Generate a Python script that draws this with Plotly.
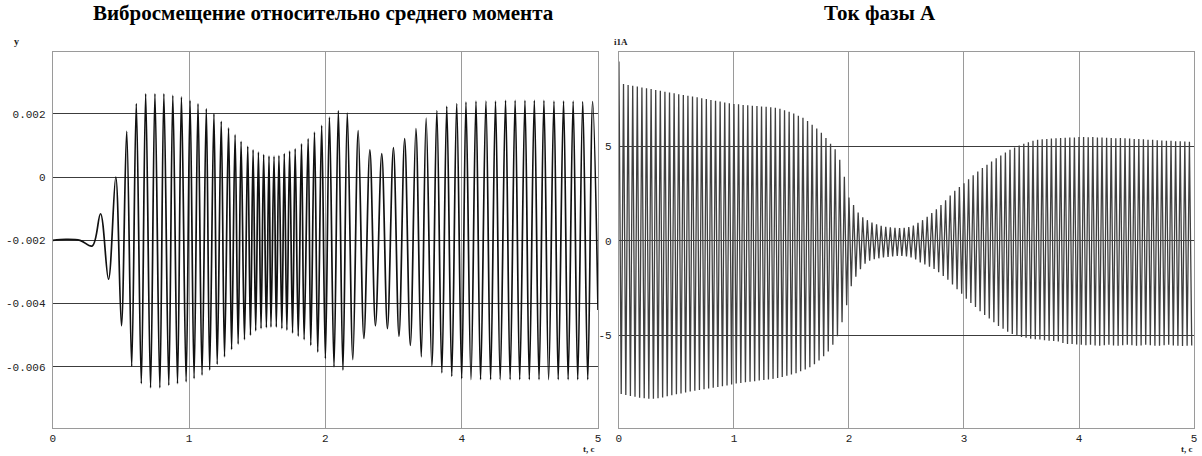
import plotly.graph_objects as go

# ---------------- data: left chart (extrema of vibration displacement) ----------------
disp_t = [0.000, 0.120, 0.250, 0.362, 0.438, 0.511, 0.578, 0.630, 0.678, 0.724,
          0.766, 0.812, 0.852, 0.897, 0.937, 0.982, 1.019, 1.064, 1.101, 1.144,
          1.180, 1.223, 1.259, 1.296, 1.332, 1.369, 1.408, 1.439, 1.478, 1.508,
          1.545, 1.575, 1.612, 1.640, 1.672, 1.700, 1.727, 1.758, 1.788, 1.813,
          1.837, 1.861, 1.886, 1.910, 1.934, 1.959, 1.983, 2.001, 2.029, 2.050,
          2.074, 2.101, 2.123, 2.147, 2.172, 2.199, 2.223, 2.251, 2.281, 2.305,
          2.342, 2.366, 2.400, 2.430, 2.466, 2.500, 2.537, 2.579, 2.619, 2.661,
          2.701, 2.752, 2.801, 2.853, 2.908, 2.959, 3.017, 3.069, 3.124, 3.175,
          3.227, 3.279, 3.330, 3.379, 3.424, 3.476, 3.522, 3.568, 3.613, 3.659,
          3.704, 3.750, 3.789, 3.835, 3.881, 3.923, 3.972, 4.015, 4.060, 4.103,
          4.152, 4.194, 4.240, 4.282, 4.330, 4.370, 4.416, 4.459, 4.504, 4.547,
          4.596, 4.635, 4.684, 4.726, 4.772, 4.814, 4.860, 4.906, 4.951, 5.000]
disp_v = [-0.00200, -0.00197, -0.00200, -0.00218, -0.00116, -0.00323, 0.00000, -0.00470, 0.00144, -0.00598,
          0.00232, -0.00653, 0.00263, -0.00666, 0.00263, -0.00666, 0.00263, -0.00658, 0.00258, -0.00653,
          0.00253, -0.00647, 0.00242, -0.00637, 0.00232, -0.00626, 0.00216, -0.00610, 0.00200, -0.00592,
          0.00176, -0.00568, 0.00155, -0.00545, 0.00134, -0.00528, 0.00113, -0.00514, 0.00097, -0.00500,
          0.00086, -0.00486, 0.00079, -0.00479, 0.00071, -0.00476, 0.00066, -0.00474, 0.00066, -0.00474,
          0.00068, -0.00479, 0.00074, -0.00484, 0.00082, -0.00493, 0.00089, -0.00503, 0.00105, -0.00514,
          0.00121, -0.00532, 0.00142, -0.00553, 0.00163, -0.00574, 0.00189, -0.00600, 0.00210, -0.00610,
          0.00202, -0.00577, 0.00147, -0.00510, 0.00086, -0.00470, 0.00074, -0.00479, 0.00093, -0.00503,
          0.00121, -0.00532, 0.00153, -0.00568, 0.00186, -0.00598, 0.00210, -0.00619, 0.00223, -0.00630,
          0.00232, -0.00637, 0.00237, -0.00640, 0.00240, -0.00640, 0.00240, -0.00640, 0.00240, -0.00640,
          0.00242, -0.00640, 0.00242, -0.00640, 0.00242, -0.00640, 0.00242, -0.00640, 0.00242, -0.00640,
          0.00240, -0.00640, 0.00240, -0.00640, 0.00240, -0.00640, 0.00238, -0.00640, 0.00238, -0.00420]

disp_tickvals = [0, 1.25, 2.5, 3.75, 5]
disp_ticktext = ["0", "1", "2", "4", "5"]
disp_yticks = [-0.006, -0.004, -0.002, 0, 0.002]
disp_yticktext = ["-0.006", "-0.004", "-0.002", "0", "0.002"]

# ---------------- data: right chart (phase A current, peak per cycle) ----------------
cycle_step = 0.04
cur_upper = [9.50, 8.30, 8.26, 8.21, 8.17, 8.12, 8.08, 8.04, 7.99, 7.95,
             7.90, 7.86, 7.82, 7.77, 7.73, 7.68, 7.64, 7.60, 7.55, 7.51,
             7.46, 7.42, 7.38, 7.33, 7.29, 7.25, 7.23, 7.20, 7.18, 7.16,
             7.14, 7.12, 7.10, 7.08, 7.05, 7.00, 6.92, 6.84, 6.75, 6.63,
             6.52, 6.35, 6.15, 5.95, 5.72, 5.45, 5.15, 4.85, 4.30, 3.40,
             2.30, 1.90, 1.50, 1.25, 1.10, 0.98, 0.88, 0.80, 0.75, 0.72,
             0.69, 0.68, 0.69, 0.73, 0.82, 0.96, 1.10, 1.28, 1.48, 1.68,
             1.90, 2.15, 2.40, 2.65, 2.85, 3.05, 3.27, 3.48, 3.68, 3.86,
             4.03, 4.20, 4.38, 4.52, 4.68, 4.82, 4.95, 5.05, 5.15, 5.22,
             5.30, 5.35, 5.38, 5.40, 5.42, 5.44, 5.45, 5.46, 5.47, 5.48,
             5.50, 5.50, 5.49, 5.50, 5.48, 5.47, 5.46, 5.45, 5.44, 5.45,
             5.44, 5.42, 5.40, 5.40, 5.38, 5.36, 5.35, 5.33, 5.32, 5.30,
             5.30, 5.28, 5.27, 5.26, 5.25]
cur_lower = [-8.10, -8.15, -8.20, -8.25, -8.30, -8.33, -8.35, -8.35, -8.33, -8.28,
             -8.22, -8.17, -8.12, -8.07, -8.02, -7.97, -7.93, -7.89, -7.85, -7.81,
             -7.77, -7.73, -7.69, -7.65, -7.60, -7.55, -7.52, -7.48, -7.45, -7.42,
             -7.39, -7.36, -7.33, -7.30, -7.25, -7.20, -7.14, -7.07, -7.00, -6.90,
             -6.80, -6.68, -6.52, -6.33, -6.10, -5.85, -5.50, -5.05, -4.30, -3.40,
             -2.40, -1.90, -1.50, -1.20, -1.05, -0.97, -0.92, -0.88, -0.85, -0.82,
             -0.80, -0.80, -0.82, -0.87, -0.98, -1.14, -1.25, -1.37, -1.48, -1.65,
             -1.85, -2.05, -2.30, -2.55, -2.80, -3.06, -3.28, -3.50, -3.72, -3.92,
             -4.10, -4.30, -4.50, -4.65, -4.80, -4.92, -5.02, -5.08, -5.12, -5.18,
             -5.20, -5.22, -5.25, -5.28, -5.30, -5.32, -5.40, -5.45, -5.45, -5.48,
             -5.50, -5.52, -5.50, -5.53, -5.55, -5.52, -5.50, -5.53, -5.55, -5.52,
             -5.50, -5.52, -5.55, -5.53, -5.50, -5.52, -5.55, -5.55, -5.52, -5.50,
             -5.53, -5.55, -5.56, -5.55, -5.53]
cur_xticks = [0, 1, 2, 3, 4, 5]
cur_yticks = [-5, 0, 5]

# build zigzag: peak at start of each cycle, trough half a cycle later
n = min(len(cur_upper), len(cur_lower))
cur_t, cur_v = [], []
for k in range(n):
    cur_t += [k * cycle_step, k * cycle_step + cycle_step / 2]
    cur_v += [cur_upper[k], cur_lower[k]]

W, H = 1202, 456
def px(x):
    return x / W
def py(y):
    return 1 - y / H

fig = go.Figure()
fig.add_trace(go.Scatter(x=disp_t, y=disp_v, mode="lines", xaxis="x", yaxis="y",
                         line=dict(color="#111111", width=1.7, shape="spline", smoothing=1.0),
                         hoverinfo="skip", showlegend=False))
fig.add_trace(go.Scatter(x=cur_t, y=cur_v, mode="lines", xaxis="x2", yaxis="y2",
                         line=dict(color="#404040", width=1.3),
                         hoverinfo="skip", showlegend=False))

tickfont = dict(family="Liberation Mono", size=11, color="#222")
common_x = dict(showgrid=True, gridcolor="#9a9a9a", gridwidth=1, showline=True, mirror=True,
                linecolor="#9a9a9a", linewidth=1, zeroline=False, ticks="", tickfont=tickfont,
                range=[0, 5], fixedrange=True)
common_y = dict(showgrid=True, gridcolor="#3c3c3c", gridwidth=1, showline=True, mirror=True,
                linecolor="#9a9a9a", linewidth=1, zeroline=False, ticks="", tickfont=tickfont,
                ticklabelstandoff=4, fixedrange=True)

fig.update_layout(
    width=W, height=H, margin=dict(l=0, r=0, t=0, b=0),
    paper_bgcolor="white", plot_bgcolor="white",
    xaxis=dict(common_x, domain=[px(50), px(598)], anchor="y",
               tickvals=disp_tickvals, ticktext=disp_ticktext),
    yaxis=dict(common_y, domain=[py(428), py(52)], anchor="x",
               range=[-0.00793, 0.00395], tickvals=disp_yticks, ticktext=disp_yticktext),
    xaxis2=dict(common_x, domain=[px(619), px(1197)], anchor="y2",
                tickvals=cur_xticks, ticktext=[str(v) for v in cur_xticks]),
    yaxis2=dict(common_y, domain=[py(428), py(52)], anchor="x2",
                range=[-9.9, 10.0], tickvals=cur_yticks, ticktext=[str(v) for v in cur_yticks]),
)

serif = "Liberation Serif"
ann = [
    dict(text="<b>Вибросмещение относительно среднего момента</b>", x=px(322), y=py(13),
         font=dict(family=serif, size=21, color="black")),
    dict(text="<b>Ток фазы А</b>", x=px(881), y=py(13),
         font=dict(family=serif, size=21, color="black")),
    dict(text="<b>y</b>", x=px(14), y=py(42), font=dict(family=serif, size=10, color="#222")),
    dict(text="<b>i1A</b>", x=px(621), y=py(42), font=dict(family=serif, size=9, color="#222")),
    dict(text="<b>t, c</b>", x=px(589), y=0, yanchor="bottom",
         font=dict(family=serif, size=9, color="#222")),
    dict(text="<b>t, c</b>", x=px(1190), y=0, yanchor="bottom",
         font=dict(family=serif, size=9, color="#222")),
]
for a in ann:
    a.setdefault("yanchor", "middle")
    fig.add_annotation(xref="paper", yref="paper", showarrow=False, xanchor="center", **a)

fig.write_html("out.html")
